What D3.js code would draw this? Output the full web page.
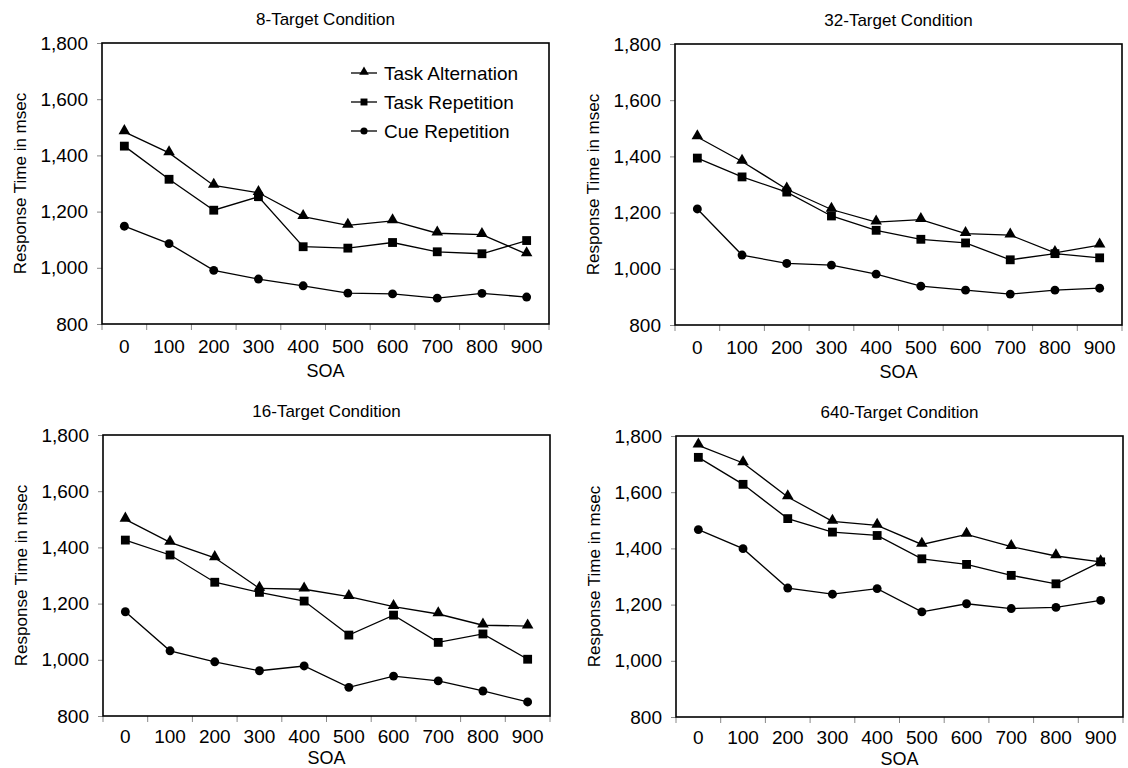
<!DOCTYPE html>
<html>
<head>
<meta charset="utf-8">
<script src="https://cdn.jsdelivr.net/npm/d3@7"></script>
<style>
  body { margin: 0; background: #fff; }
  svg { display: block; }
  text { font-family: "Liberation Sans", Arial, sans-serif; fill: #000; }
</style>
</head>
<body>
<svg id="chart" width="1128" height="768"></svg>
<script>
// SOA categories on the x axis
var soa = ['0', '100', '200', '300', '400', '500', '600', '700', '800', '900'];
var seriesNames = ['Task Alternation', 'Task Repetition', 'Cue Repetition'];
var yTicks = [800, 1000, 1200, 1400, 1600, 1800];

// 8-target condition
var alt8 = [1484, 1409, 1293, 1267, 1182, 1151, 1167, 1123, 1118, 1049];
var rep8 = [1433, 1315, 1205, 1253, 1075, 1070, 1090, 1057, 1050, 1097];
var cue8 = [1148, 1086, 991, 960, 936, 910, 907, 892, 909, 896];

// 32-target condition
var alt32 = [1469, 1382, 1283, 1211, 1166, 1175, 1125, 1120, 1057, 1084];
var rep32 = [1394, 1327, 1273, 1188, 1137, 1105, 1092, 1032, 1054, 1039];
var cue32 = [1213, 1049, 1019, 1013, 981, 938, 924, 910, 924, 931];

// 16-target condition
var alt16 = [1500, 1418, 1363, 1254, 1251, 1225, 1189, 1163, 1123, 1120];
var rep16 = [1426, 1373, 1276, 1240, 1209, 1088, 1159, 1062, 1092, 1002];
var cue16 = [1171, 1032, 993, 961, 978, 902, 942, 925, 889, 850];

// 640-target condition
var alt640 = [1767, 1704, 1583, 1496, 1482, 1414, 1450, 1406, 1373, 1352];
var rep640 = [1724, 1628, 1506, 1458, 1446, 1363, 1343, 1304, 1274, 1352];
var cue640 = [1467, 1399, 1259, 1237, 1257, 1174, 1203, 1186, 1190, 1215];

// top row has a bit more room under the axis than the bottom row
var panels = [
    {title: '8-Target Condition', x: 102, y: 43, values: [alt8, rep8, cue8], legend: true, pad: 16, soaY: 53},
    {title: '32-Target Condition', x: 675, y: 44, values: [alt32, rep32, cue32], pad: 16, soaY: 53},
    {title: '16-Target Condition', x: 103, y: 435, values: [alt16, rep16, cue16], pad: 14, soaY: 48},
    {title: '640-Target Condition', x: 676, y: 436, values: [alt640, rep640, cue640], pad: 14, soaY: 48}
];

var W = 447, H = 281;
var symbols = [
    d3.symbol().type(d3.symbolTriangle).size(58),
    d3.symbol().type(d3.symbolSquare).size(78),
    d3.symbol().type(d3.symbolCircle).size(62)
];
var legendSymbols = [
    d3.symbol().type(d3.symbolTriangle).size(40),
    d3.symbol().type(d3.symbolSquare).size(48),
    d3.symbol().type(d3.symbolCircle).size(40)
];

var svg = d3.select('#chart');

var x = d3.scaleBand().domain(soa).range([0, W]).padding(0);
var y = d3.scaleLinear().domain([800, 1800]).range([H, 0]);

panels.forEach(function(p) {
    var g = svg.append('g').attr('transform', 'translate(' + p.x + ',' + p.y + ')');

    // title
    g.append('text').attr('x', W / 2).attr('y', -18)
        .attr('text-anchor', 'middle').style('font-size', '17px').text(p.title);

    // y axis
    var yAxis = g.append('g').call(d3.axisLeft(y).tickValues(yTicks)
        .tickSize(5).tickPadding(9).tickFormat(d3.format(',')));
    yAxis.select('.domain').remove();
    yAxis.selectAll('line').attr('stroke', '#888');
    yAxis.selectAll('text').style('font-size', '19px').style('font-family', '"Liberation Sans", Arial, sans-serif');

    // x axis: labels at band centres, ticks at band boundaries
    var xAxis = g.append('g').attr('transform', 'translate(0,' + H + ')')
        .call(d3.axisBottom(x).tickSize(0).tickPadding(p.pad));
    xAxis.select('.domain').remove();
    xAxis.selectAll('text').style('font-size', '19px').style('font-family', '"Liberation Sans", Arial, sans-serif');

    var edges = soa.map(function(d) { return x(d); }).concat([W]);
    g.append('g').selectAll('line').data(edges).enter().append('line')
        .attr('x1', function(d) { return d; }).attr('x2', function(d) { return d; })
        .attr('y1', H).attr('y2', H + 6).attr('stroke', '#888').attr('stroke-width', 1);

    g.append('text').attr('x', W / 2).attr('y', H + p.soaY)
        .attr('text-anchor', 'middle').style('font-size', '18px').text('SOA');

    g.append('text')
        .attr('transform', 'translate(' + (-76) + ',' + (H / 2) + ') rotate(-90)')
        .attr('text-anchor', 'middle').style('font-size', '17px').text('Response Time in msec');

    // plot frame
    g.append('rect').attr('x', 0).attr('y', 0).attr('width', W).attr('height', H)
        .attr('fill', 'none').attr('stroke', '#000').attr('stroke-width', 1.6);

    var line = d3.line()
        .x(function(d, i) { return x(soa[i]) + x.bandwidth() / 2; })
        .y(function(d) { return y(d); });

    p.values.forEach(function(vals, si) {
        g.append('path').datum(vals).attr('d', line)
            .attr('fill', 'none').attr('stroke', '#000').attr('stroke-width', 1.3);
        g.append('g').selectAll('path').data(vals).enter().append('path')
            .attr('d', symbols[si])
            .attr('transform', function(d, i) {
                var dy = si === 0 ? -1 : 0;
                return 'translate(' + (x(soa[i]) + x.bandwidth() / 2) + ',' + (y(d) + dy) + ')';
            })
            .attr('fill', '#000');
    });

    if (p.legend) {
        var lg = g.append('g').attr('transform', 'translate(249,30)');
        seriesNames.forEach(function(name, i) {
            var row = lg.append('g').attr('transform', 'translate(0,' + (i * 29) + ')');
            row.append('line').attr('x1', 0).attr('x2', 26).attr('y1', 0).attr('y2', 0)
                .attr('stroke', '#000').attr('stroke-width', 1.3);
            row.append('path').attr('d', legendSymbols[i]).attr('transform', 'translate(13,' + (i === 0 ? -1 : 0) + ')');
            row.append('text').attr('x', 33).attr('y', 7).style('font-size', '19px').text(name);
        });
    }
});
</script>
</body>
</html>
